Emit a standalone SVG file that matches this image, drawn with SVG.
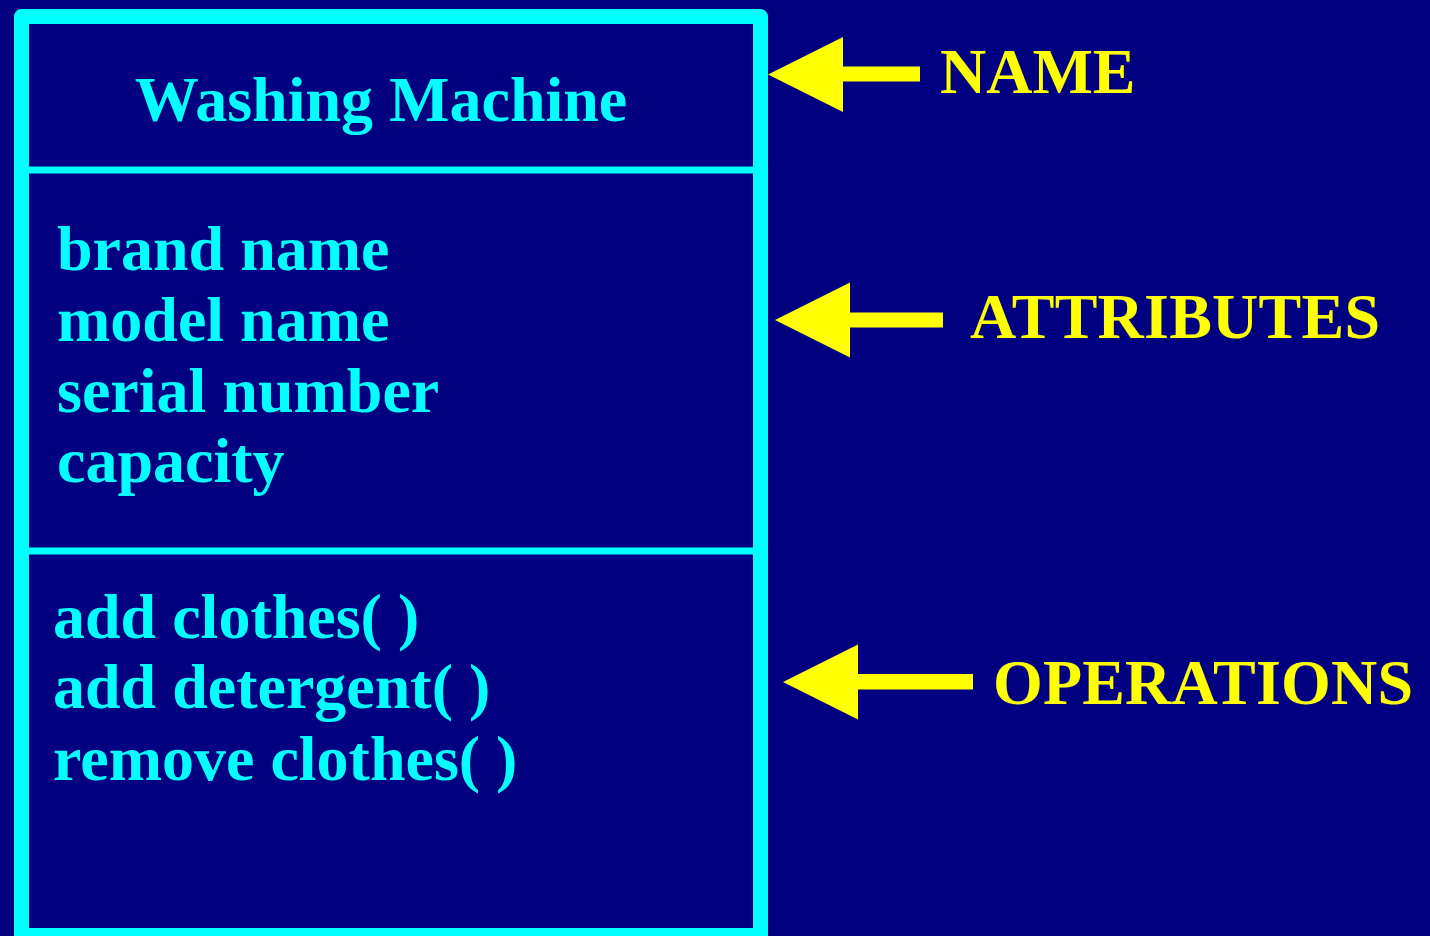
<svg xmlns="http://www.w3.org/2000/svg" width="1430" height="936" viewBox="0 0 1430 936">
<style>
.frame{fill:none;stroke:#00FFFF;stroke-width:15;stroke-linejoin:round}
.div{stroke:#00FFFF;stroke-width:7}
.ct{fill:#00FFFF;font-family:"Liberation Serif","Times New Roman",serif;font-weight:bold;font-size:64px}
.yt{fill:#FFFF00;font-family:"Liberation Serif","Times New Roman",serif;font-weight:bold;font-size:64px}
.arrow{fill:#FFFF00}
</style>
<rect x="0" y="0" width="1430" height="936" fill="#000080"/>
<g id="class-box">
<rect class="frame" x="21.5" y="16.5" width="739" height="919"/>
<line class="div" x1="29" y1="170" x2="753" y2="170"/>
<line class="div" x1="29" y1="551" x2="753" y2="551"/>
</g>
<g id="name-compartment">
<text class="ct" x="381" y="121" text-anchor="middle">Washing Machine</text>
</g>
<g id="attributes-compartment">
<text class="ct" x="57" y="270">brand name</text>
<text class="ct" x="57" y="341">model name</text>
<text class="ct" x="57" y="412">serial number</text>
<text class="ct" x="57" y="482">capacity</text>
</g>
<g id="operations-compartment">
<text class="ct" x="53" y="638">add clothes( )</text>
<text class="ct" x="53" y="708">add detergent( )</text>
<text class="ct" x="53" y="780">remove clothes( )</text>
</g>
<g id="connectors">
<polygon class="arrow" points="768,74.5 843,37 843,66.5 920,66.5 920,81.5 843,81.5 843,112"/>
<polygon class="arrow" points="775,320 850,282.5 850,312.5 943,312.5 943,327.5 850,327.5 850,357.5"/>
<polygon class="arrow" points="783,682 858,644.5 858,674 973,674 973,689.5 858,689.5 858,719.5"/>
</g>
<g id="label-name"><text class="yt" x="940" y="93">NAME</text></g>
<g id="label-attributes"><text class="yt" x="970" y="338" textLength="410" lengthAdjust="spacing">ATTRIBUTES</text></g>
<g id="label-operations"><text class="yt" x="993" y="704" textLength="420" lengthAdjust="spacing">OPERATIONS</text></g>
</svg>
